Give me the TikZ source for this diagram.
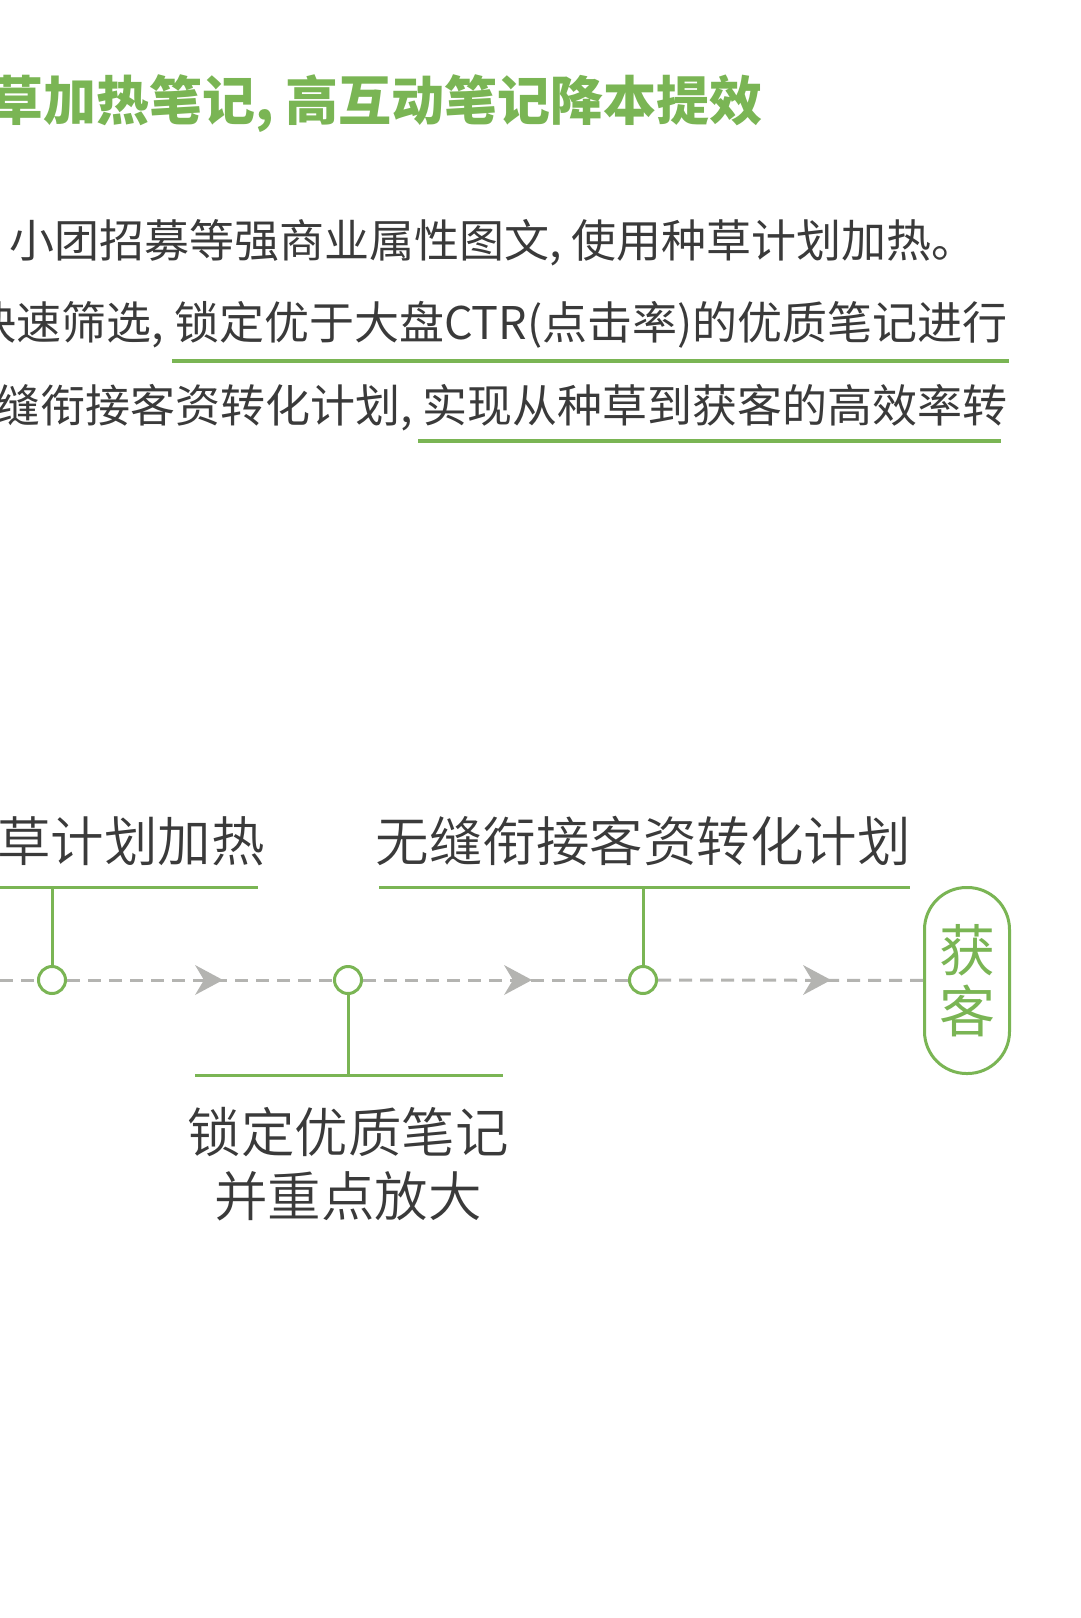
\documentclass[tikz,border=0pt]{standalone}
\usepackage{fontspec}
\setmainfont{Noto Sans CJK SC}
\newfontfamily\lightcjk{Noto Sans CJK SC DemiLight}
\usetikzlibrary{calc}
\definecolor{leaf}{HTML}{7AB554}
\definecolor{ink}{HTML}{3A3A3A}
\definecolor{dashgray}{HTML}{B4B4B1}
\newcommand\flowchev[1]{\fill[dashgray] (#1,980) -- ++(-28,-15) -- ++(9,15) -- ++(-9,15) -- cycle;}
\begin{document}
\begin{tikzpicture}[x=1pt,y=-1pt,
  titletext/.style={font=\fontsize{53}{60}\selectfont\bfseries, text=leaf, inner sep=0},
  paratext/.style={font=\fontsize{45}{50}\selectfont, text=ink, inner sep=0},
  labeltext/.style={font=\lightcjk\fontsize{53.5}{64}\selectfont, text=ink, inner sep=0, align=center},
  greenline/.style={draw=leaf, line width=3pt},
  hiline/.style={draw=leaf, line width=4pt},
  dot/.style={circle, draw=leaf, line width=3pt, fill=white, minimum size=27pt, inner sep=0},
  flow/.style={draw=dashgray, line width=3pt, dash pattern=on 13pt off 8pt},
  pill/.style={draw=leaf, line width=3pt, rounded corners=42pt, minimum width=85pt, minimum height=186pt, inner sep=0, text=leaf, font=\fontsize{56}{61}\selectfont, align=center}]
\useasboundingbox (0,0) rectangle (1080,1618);
\fill[white] (0,0) rectangle (1080,1618);
\clip (0,0) rectangle (1080,1618);
% header
\node[titletext, anchor=east] (ttl) at (763,104) {草加热笔记, 高互动笔记降本提效};
\node[paratext, anchor=west] (p1) at (9,243) {小团招募等强商业属性图文, 使用种草计划加热。};
\node[paratext, anchor=east] (p2) at (1008,325) {快速筛选, 锁定优于大盘CTR(点击率)的优质笔记进行};
\node[paratext, anchor=east] (p3) at (1008,408) {缝衔接客资转化计划, 实现从种草到获客的高效率转};
\draw[hiline] (172,361) -- (1009,361);
\draw[hiline] (418,441) -- (1001,441);
% diagram
\node[labeltext, anchor=east] (l1) at (265,841) {草计划加热};
\node[labeltext] (l2) at (643,841) {无缝衔接客资转化计划};
\node[labeltext] (l3) at (348,1164) {锁定优质笔记\\并重点放大};
\draw[greenline] (0,887) -- (258,887);
\draw[greenline] (379,887) -- (910,887);
\draw[greenline] (195,1075) -- (503,1075);
\coordinate (start) at (0,980);
\coordinate (t1) at (52,887);
\coordinate (t3) at (643,887);
\coordinate (b2) at (348,1075);
\node[dot] (c1) at (52,980) {};
\node[dot] (c2) at (348,980) {};
\node[dot] (c3) at (643,980) {};
\node[pill] (goal) at (967,980.5) {获\\客};
\draw[flow] (start) -- (c1);
\draw[flow] (c1) -- (c2);
\draw[flow] (c2) -- (c3);
\draw[flow] (c3) -- (goal);
\flowchev{223}
\flowchev{532}
\flowchev{831}
\draw[greenline] (c1.north) -- (t1);
\draw[greenline] (c3.north) -- (t3);
\draw[greenline] (c2.south) -- (b2);
\end{tikzpicture}
\end{document}
